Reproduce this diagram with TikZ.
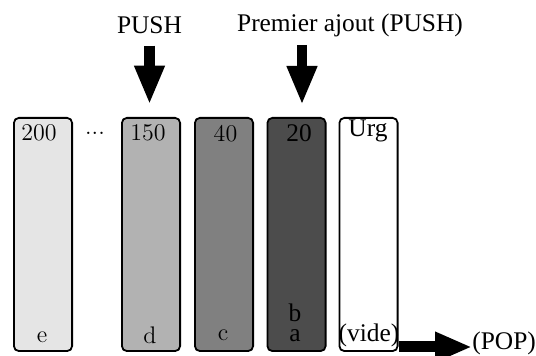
\documentclass[tikz,border=0pt]{standalone}
\usepackage{fontspec}
\setmainfont{Liberation Serif}
\usetikzlibrary{positioning}
\usetikzlibrary{arrows.meta}
\newcommand{\cmtext}{\fontfamily{lmr}\selectfont}

\begin{document}
\begin{tikzpicture}[x=0.5pt, y=-0.5pt,
  pile/.style={draw, line width=0.9pt, rounded corners=2.5pt, minimum width=29.1pt, minimum height=116.6pt, inner sep=0pt},
  txt/.style={inner sep=0pt, anchor=base, font=\fontsize{12.7}{15}\selectfont},
  cmtxt/.style={inner sep=0pt, anchor=base, font=\fontsize{12}{14}\selectfont\cmtext},
  bigarrow/.style={line width=5.3pt, -{Triangle[length=19.5pt, width=14pt]}}]

\useasboundingbox (0,0) rectangle (536,356);

% les piles
\def\ym{234.5}
\node[pile, fill=black!10] (b200) at (43,\ym) {};
\node[pile, fill=black!30] (b150) at (151,\ym) {};
\node[pile, fill=black!50] (b40) at (224,\ym) {};
\node[pile, fill=black!70] (b20) at (296.5,\ym) {};
\node[pile, fill=white] (burg) at (368.5,\ym) {};

% priorites
\node[cmtxt] (t200) at (39,141) {200};
\node[cmtxt] (dots) at (95,135) {...};
\node[cmtxt] (t150) at (148,141) {150};
\node[cmtxt] (t40) at (225.5,141.5) {40};
\node[txt] (t20) at (299,141.5) {20};
\node[txt] (turg) at (368,136.5) {Urg};

% contenu
\node[cmtxt] (le) at (42,343) {e};
\node[cmtxt] (ld) at (150,344) {d};
\node[cmtxt] (lc) at (223,341) {c};
\node[txt, anchor=south, align=center, font=\fontsize{12.7}{10}\selectfont] (lba) at (295,342) {b\\a};
\node[txt] (vide) at (369,342) {(vide)};

% entrees
\node[txt] (push) at (149.5,34) {PUSH};
\node[txt] (premier) at (350,32) {Premier ajout (PUSH)};
\draw[bigarrow] ([yshift=-5.5pt]push.south) -- ([yshift=6.2pt]push.south |- b150.north);
\coordinate (ptop) at (302,45);
\draw[bigarrow] (ptop) -- ([yshift=6pt]ptop |- b20.north);

% sortie
\node[txt, anchor=base west] (pop) at (472,350) {(POP)};
\coordinate (pstart) at (399,347);
\draw[line width=5.5pt, -{Triangle[length=18.5pt, width=14pt]}] (pstart) -- (pstart -| pop.west);

\end{tikzpicture}
\end{document}
